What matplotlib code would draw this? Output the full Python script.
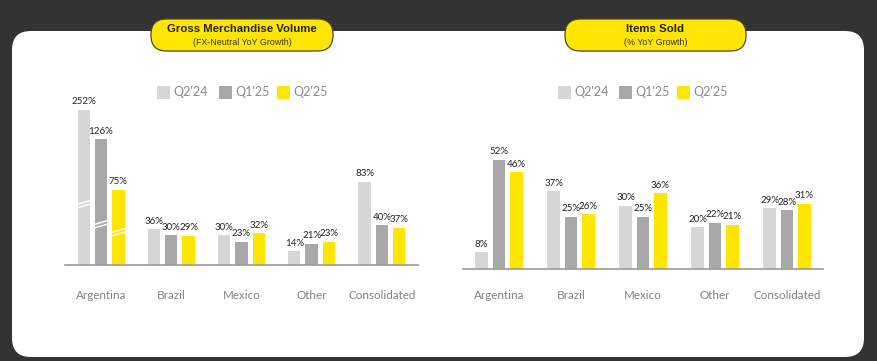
import numpy as np
import matplotlib
matplotlib.use("Agg")
import matplotlib.pyplot as plt
from matplotlib.patches import FancyBboxPatch, Rectangle

# data
categories = ["Argentina", "Brazil", "Mexico", "Other", "Consolidated"]
series = ["Q2'24", "Q1'25", "Q2'25"]
colors = ["#D6D6D6", "#A8A8A8", "#FFE500"]

gmv = {
    "Q2'24": [252, 36, 30, 14, 83],
    "Q1'25": [126, 30, 23, 21, 40],
    "Q2'25": [75, 29, 32, 23, 37],
}
items = {
    "Q2'24": [8, 37, 30, 20, 29],
    "Q1'25": [52, 25, 25, 22, 28],
    "Q2'25": [46, 26, 36, 21, 31],
}
GMV_CAP = 155  # Argentina Q2'24 bar is drawn truncated (broken axis)

W, H = 878, 361
fig = plt.figure(figsize=(W / 100, H / 100), dpi=100)
fig.patch.set_facecolor("#333333")

# background panel + title pills, in pixel coords
bg = fig.add_axes([0, 0, 1, 1])
bg.set_xlim(0, W)
bg.set_ylim(H, 0)
bg.axis("off")
bg.add_patch(FancyBboxPatch((12, 31), 852, 326,
                            boxstyle="round,pad=0,rounding_size=19",
                            fc="white", ec="none"))

def pill(x0, x1, title, sub):
    bg.add_patch(FancyBboxPatch((x0, 19), x1 - x0, 32,
                                boxstyle="round,pad=0,rounding_size=15.5",
                                fc="#FFE500", ec="#4a4a2a", lw=0.9))
    xc = (x0 + x1) / 2
    bg.text(xc, 29.5, title, ha="center", va="center", fontsize=8.2,
            fontweight="bold", color="#222222", family="Liberation Sans")
    bg.text(xc, 42.5, sub, ha="center", va="center", fontsize=6.4,
            color="#333333", family="Liberation Sans")

pill(151, 333, "Gross Merchandise Volume", "(FX-Neutral YoY Growth)")
pill(565, 746, "Items Sold", "(% YoY Growth)")

def legend(xs):
    for x, s, c in zip(xs, series, colors):
        bg.add_patch(Rectangle((x, 86), 13, 13, fc=c, ec="none"))
        bg.text(x + 16, 92.5, s, ha="left", va="center", fontsize=9,
                color="#8a8a8a", family="Lato")

legend([157, 219, 277])
legend([558, 619, 677])

def px_axes(x0, x1, ytop, ybase):
    return fig.add_axes([x0 / W, (H - ybase) / H, (x1 - x0) / W, (ybase - ytop) / H])

def draw(ax, data, scale, off, width, xlim, pad, cap=None):
    x = np.arange(len(categories))
    ax.set_xlim(*xlim)
    ax.set_ylim(0, ax_h[ax] / scale)
    for i, s in enumerate(series):
        vals = np.array(data[s], dtype=float)
        shown = np.minimum(vals, cap) if cap else vals
        xs = x + (i - 1) * off
        ax.bar(xs, shown, width=width, color=colors[i], zorder=2)
        for xi, h, v in zip(xs, shown, vals):
            ax.text(xi, h + 3.5 / scale, f"{int(v)}%", ha="center", va="bottom",
                    fontsize=7.0, color="#222222", family="Lato", clip_on=False)
    for sp in ["top", "right", "left"]:
        ax.spines[sp].set_visible(False)
    ax.spines["bottom"].set_color("#9a9a9a")
    ax.spines["bottom"].set_linewidth(1.2)
    ax.set_yticks([])
    ax.set_xticks(x)
    ax.set_xticklabels(categories, fontsize=8.4, color="#828282", family="Lato")
    ax.tick_params(axis="x", length=0, pad=pad)
    ax.patch.set_alpha(0)

ax_h = {}
ax1 = px_axes(65, 418, 95, 265)
ax_h[ax1] = 170
draw(ax1, gmv, 1.0, 0.247, 0.175, (-0.513, 4.515), 18, cap=GMV_CAP)

# break marks on the Argentina bars
for i, yb in enumerate([59, 39, 31]):
    xc = (i - 1) * 0.247
    for d in (0, 3.5):
        ax1.plot([xc - 0.095, xc + 0.095], [yb + d - 2, yb + d + 2],
                 color="white", lw=1.1, zorder=3, solid_capstyle="butt")

ax2 = px_axes(463, 823, 120, 269)
ax_h[ax2] = 149
draw(ax2, items, 2.1, 0.243, 0.18, (-0.5, 4.5), 15)

fig.savefig("out.png", dpi=100, facecolor=fig.get_facecolor())
